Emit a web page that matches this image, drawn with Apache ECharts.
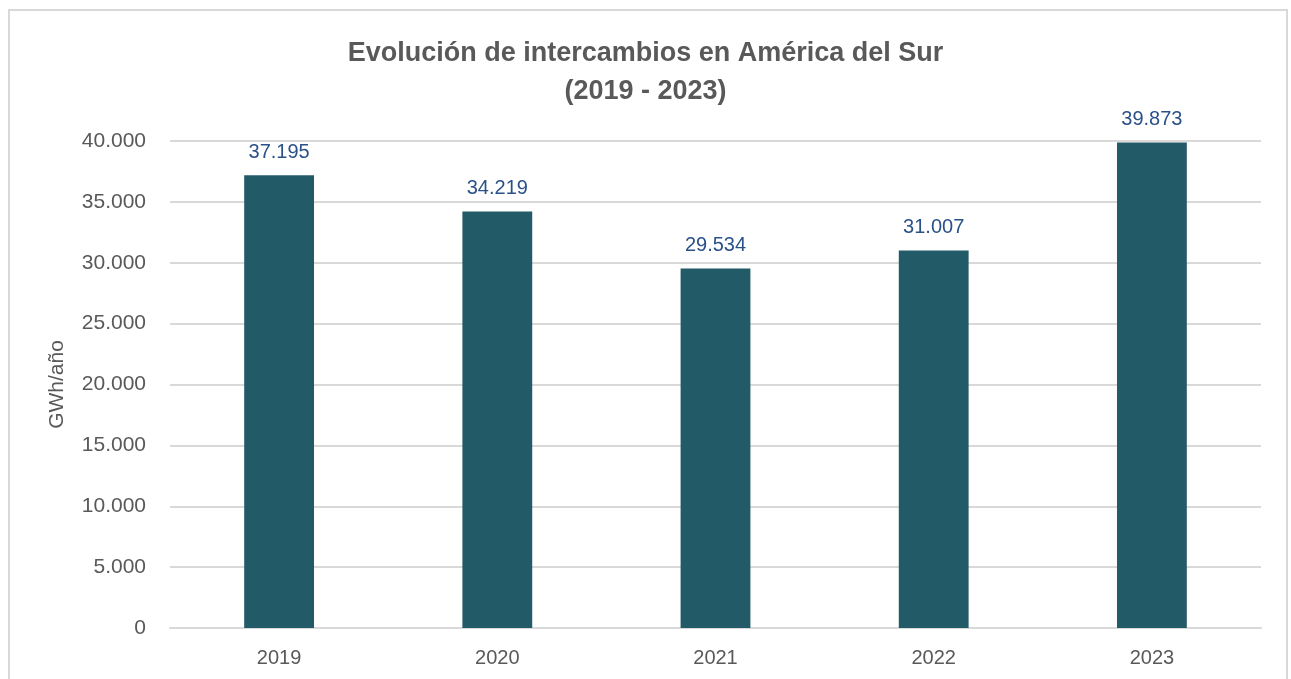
<!DOCTYPE html>
<html style="height: 100%">
<head>
<meta charset="utf-8">
</head>
<body style="height: 100%; margin: 0; background: #fff">
<div style="position: absolute; left: 8px; top: 9px; width: 1280px; height: 700px; border: 2px solid #d9d9d9; box-sizing: border-box"></div>
<div id="container" style="position: absolute; left: 0; top: 0; width: 1291px; height: 679px"></div>
<script src="https://cdn.jsdelivr.net/npm/echarts@6/dist/echarts.min.js"></script>
<script type="text/javascript">
var years = ['2019', '2020', '2021', '2022', '2023'];
var intercambios = [37195, 34219, 29534, 31007, 39873];

function fmtMiles(v) {
    return String(Math.round(v)).replace(/\B(?=(\d{3})+(?!\d))/g, '.');
}

var chart = echarts.init(document.getElementById('container'));
var option = {
    animation: false,
    textStyle: { fontFamily: 'Liberation Sans, Arial, sans-serif' },
    title: {
        text: 'Evolución de intercambios en América del Sur\n(2019 - 2023)',
        left: 'center',
        top: 30,
        textStyle: {
            fontSize: 27,
            fontWeight: 'bold',
            color: '#595959',
            lineHeight: 38
        }
    },
    grid: {
        left: 170,
        right: 30,
        top: 141,
        bottom: 51
    },
    xAxis: {
        type: 'category',
        data: years,
        axisTick: { show: false },
        axisLine: { lineStyle: { color: '#d9d9d9', width: 2 } },
        axisLabel: { color: '#595959', fontSize: 20, margin: 20 }
    },
    yAxis: {
        type: 'value',
        min: 0,
        max: 40000,
        interval: 5000,
        name: 'GWh/año',
        nameLocation: 'middle',
        nameGap: 102,
        nameTextStyle: { color: '#595959', fontSize: 21 },
        axisLine: { show: false },
        axisTick: { show: false },
        axisLabel: {
            color: '#595959',
            fontSize: 21,
            margin: 24,
            formatter: fmtMiles
        },
        splitLine: { lineStyle: { color: '#d9d9d9', width: 2 } }
    },
    series: [
        {
            type: 'bar',
            data: intercambios,
            barWidth: '32%',
            itemStyle: { color: '#225A68' },
            label: {
                show: true,
                position: 'top',
                distance: 13,
                color: '#2B5189',
                fontSize: 20,
                formatter: function (p) { return fmtMiles(p.value); }
            }
        }
    ]
};
chart.setOption(option);
</script>
</body>
</html>
